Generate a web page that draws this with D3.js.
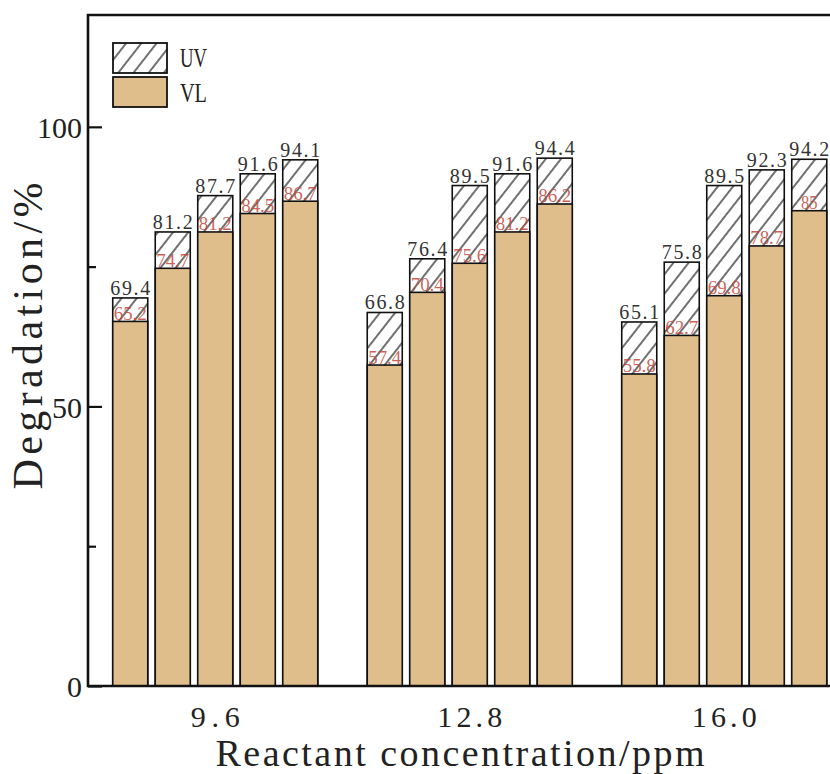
<!DOCTYPE html>
<html>
<head>
<meta charset="utf-8">
<script src="https://cdn.jsdelivr.net/npm/d3@7/dist/d3.min.js"></script>
<style>
  body { margin: 0; background: #fff; }
  svg { display: block; }
  text { font-family: "Liberation Serif", "DejaVu Serif", serif; }
</style>
</head>
<body>
<div id="chart"></div>
<script>
// 数据
var groups = ["9.6", "12.8", "16.0"];
var seriesNames = ["UV", "VL"];
var uvValues = [
    [69.4, 81.2, 87.7, 91.6, 94.1],
    [66.8, 76.4, 89.5, 91.6, 94.4],
    [65.1, 75.8, 89.5, 92.3, 94.2]
];
var vlValues = [
    [65.2, 74.7, 81.2, 84.5, 86.7],
    [57.4, 70.4, 75.6, 81.2, 86.2],
    [55.8, 62.7, 69.8, 78.7, 85]
];
var yMajorTicks = [0, 50, 100];
var yMinorTicks = [25, 75];

// 画布和绘图区
var W = 830, H = 774;
var plot = {left: 88, top: 15, bottom: 686, right: 851.5};
var barFill = "#dfbe8c";

var svg = d3.select("#chart").append("svg")
    .attr("width", W)
    .attr("height", H);

// 斜线填充
var defs = svg.append("defs");
var pat = defs.append("pattern")
    .attr("id", "hatch")
    .attr("patternUnits", "userSpaceOnUse")
    .attr("width", 12)
    .attr("height", 12)
    .attr("patternTransform", "rotate(38)");
pat.append("rect").attr("width", 12).attr("height", 12).attr("fill", "#fff");
pat.append("line")
    .attr("x1", 6).attr("y1", 0).attr("x2", 6).attr("y2", 12)
    .attr("stroke", "#111").attr("stroke-width", 1.2);

var x0 = d3.scaleBand().domain(groups).range([plot.left, plot.right]).padding(0);
var x1 = d3.scaleBand().domain(d3.range(5)).range([0, x0.bandwidth()])
    .paddingInner(0.176).paddingOuter(0.582);
var y = d3.scaleLinear().domain([0, 120]).range([plot.bottom, plot.top]);

// 柱子
groups.forEach(function (g, gi) {
    var gG = svg.append("g").attr("transform", "translate(" + x0(g) + ",0)");
    uvValues[gi].forEach(function (uv, i) {
        var vl = vlValues[gi][i];
        var bx = x1(i), bw = x1.bandwidth();
        gG.append("rect")
            .attr("x", bx).attr("y", y(uv))
            .attr("width", bw).attr("height", y(0) - y(uv))
            .attr("fill", "url(#hatch)")
            .attr("stroke", "#111").attr("stroke-width", 1.6);
        gG.append("rect")
            .attr("x", bx).attr("y", y(vl))
            .attr("width", bw).attr("height", y(0) - y(vl))
            .attr("fill", barFill)
            .attr("stroke", "#111").attr("stroke-width", 1.6);
        var uvTxt = String(uv), vlTxt = String(vl);
        gG.append("text")
            .attr("x", bx + bw / 2).attr("y", y(uv) - 3)
            .attr("text-anchor", "middle")
            .attr("font-size", 20)
            .attr("textLength", uvTxt.length * 10)
            .attr("lengthAdjust", "spacing")
            .attr("fill", "#333")
            .text(uvTxt);
        gG.append("text")
            .attr("x", bx + bw / 2).attr("y", y(vl) - 1.5)
            .attr("text-anchor", "middle")
            .attr("font-size", 18)
            .attr("textLength", vlTxt.length * 8.3)
            .attr("lengthAdjust", "spacingAndGlyphs")
            .attr("fill", "#c4473a")
            .attr("fill-opacity", 0.85)
            .text(vlTxt);
    });
});

// 坐标轴
var yAxis = svg.append("g").attr("transform", "translate(" + plot.left + ",0)")
    .call(d3.axisLeft(y).tickValues(yMajorTicks).tickSize(-14).tickSizeOuter(0).tickPadding(6));
yAxis.select(".domain").remove();
yAxis.selectAll(".tick line").attr("stroke", "#111").attr("stroke-width", 2.2);
yAxis.selectAll(".tick text")
    .attr("font-family", "'Liberation Serif', serif")
    .attr("font-size", 30)
    .attr("fill", "#222")
    .attr("dy", "0.36em");

var yMinor = svg.append("g").attr("transform", "translate(" + plot.left + ",0)")
    .call(d3.axisLeft(y).tickValues(yMinorTicks).tickSize(-8).tickSizeOuter(0).tickFormat(""));
yMinor.select(".domain").remove();
yMinor.selectAll(".tick line").attr("stroke", "#111").attr("stroke-width", 2.2);

var xAxis = svg.append("g").attr("transform", "translate(0," + plot.bottom + ")")
    .call(d3.axisBottom(x0).tickSize(0).tickPadding(20));
xAxis.select(".domain").remove();
xAxis.selectAll(".tick text")
    .attr("font-family", "'Liberation Serif', serif")
    .attr("font-size", 30)
    .attr("fill", "#222")
    .attr("textLength", function (d) { return d.length * 16.3; })
    .attr("lengthAdjust", "spacing");

// 边框
svg.append("path")
    .attr("d", "M" + plot.left + "," + plot.bottom + "V" + plot.top + "H" + plot.right + "V" + plot.bottom + "Z")
    .attr("fill", "none")
    .attr("stroke", "#111")
    .attr("stroke-width", 2.6);

// 轴标题
svg.append("text")
    .attr("x", 460).attr("y", 766)
    .attr("text-anchor", "middle")
    .attr("font-size", 38)
    .attr("textLength", 489)
    .attr("lengthAdjust", "spacing")
    .attr("fill", "#222")
    .text("Reactant concentration/ppm");

svg.append("text")
    .attr("transform", "translate(42,336) rotate(-90)")
    .attr("text-anchor", "middle")
    .attr("font-size", 42)
    .attr("textLength", 307)
    .attr("lengthAdjust", "spacing")
    .attr("fill", "#222")
    .text("Degradation/%");

// 图例
var legend = svg.append("g");
seriesNames.forEach(function (s, i) {
    legend.append("rect")
        .attr("x", 113).attr("y", 43 + i * 34)
        .attr("width", 54).attr("height", 30)
        .attr("fill", i === 0 ? "url(#hatch)" : barFill)
        .attr("stroke", "#111").attr("stroke-width", 1.8);
    legend.append("text")
        .attr("x", 180).attr("y", 67 + i * 35)
        .attr("font-size", 27)
        .attr("textLength", 27)
        .attr("lengthAdjust", "spacingAndGlyphs")
        .attr("fill", "#222")
        .text(s);
});
</script>
</body>
</html>
